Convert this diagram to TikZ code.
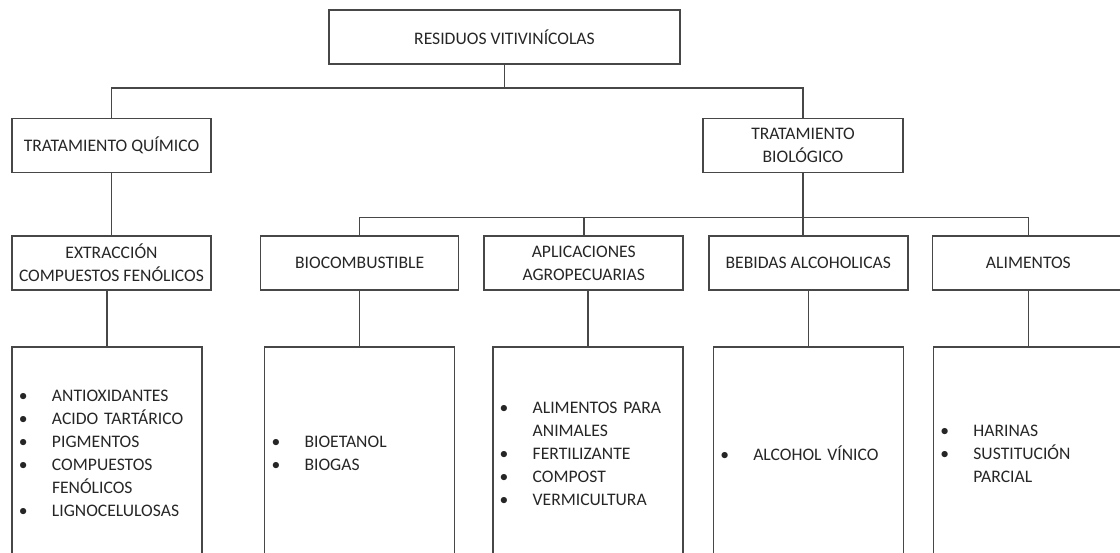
\documentclass[tikz,border=0pt]{standalone}
\usepackage{fontspec}
\setmainfont{Carlito}
\usetikzlibrary{positioning,calc}
\tikzset{
  caja/.style={
    rectangle, draw=black!72, line width=1.6pt, align=center,
    font=\fontsize{17.6}{23}\selectfont, text=black!85,
    minimum height=54pt, inner sep=2pt},
  lista/.style={
    rectangle, draw=black!72, line width=1.6pt, align=left,
    font=\fontsize{17.6}{23}\selectfont, text=black!85,
    minimum width=190pt, minimum height=214pt,
    text width=176pt, inner xsep=7pt},
  linea/.style={draw=black!72, line width=1.6pt}
}
\newcommand{\vineta}[1]{\makebox[33pt][l]{\textbullet}#1}
\newcommand{\sigue}[1]{\hspace*{33pt}#1}

\begin{document}
\begin{tikzpicture}[x=1pt, y=-1pt]

\useasboundingbox (0,0) rectangle (1120,552);
\clip (0,0) rectangle (1120,552);

\node[caja, minimum width=351pt] (res) at (504.5,37) {RESIDUOS VITIVINÍCOLAS};
\node[caja, minimum width=199pt] (quim) at (111.5,145.5) {TRATAMIENTO QUÍMICO};
\node[caja, minimum width=200pt] (biol) at (803,145.5) {TRATAMIENTO\\BIOLÓGICO};

% segundo nivel
\node[caja, minimum width=199pt, below=62pt of quim] (extr)
      {EXTRACCIÓN\\COMPUESTOS FENÓLICOS};
\node[caja, minimum width=198pt, right=48pt of extr] (bioc) {BIOCOMBUSTIBLE};
\node[caja, minimum width=199pt, right=24pt of bioc] (agro)
      {APLICACIONES\\AGROPECUARIAS};
\node[caja, minimum width=199pt, right=24pt of agro] (bebi) {BEBIDAS ALCOHOLICAS};
\node[caja, minimum width=192pt, right=23pt of bebi] (alim) {ALIMENTOS};

% listas
\node[lista, below=55pt of extr, xshift=-4.5pt] (lextr) {
  \vineta{ANTIOXIDANTES}\\\vineta{ACIDO TARTÁRICO}\\\vineta{PIGMENTOS}\\
  \vineta{COMPUESTOS}\\\sigue{FENÓLICOS}\\\vineta{LIGNOCELULOSAS}};
\node[lista, below=55pt of bioc] (lbioc) {
  \vineta{BIOETANOL}\\\vineta{BIOGAS}};
\node[lista, below=55pt of agro, xshift=4pt] (lagro) {
  \vineta{ALIMENTOS PARA}\\\sigue{ANIMALES}\\\vineta{FERTILIZANTE}\\
  \vineta{COMPOST}\\\vineta{VERMICULTURA}};
\node[lista, below=55pt of bebi] (lbebi) {\vineta{ALCOHOL VÍNICO}};
\node[lista, below=55pt of alim] (lalim) {
  \vineta{HARINAS}\\\vineta{SUSTITUCIÓN}\\\sigue{PARCIAL}};

% conectores
\coordinate (nudo1) at ($(res.south)+(0,23)$);
\draw[linea] (res.south) -- (nudo1);
\draw[linea] (quim.north) |- (nudo1) -| (biol.north);
\draw[linea] (quim.south) -- (extr.north);

\coordinate (nudo2) at ($(biol.south)+(0,44)$);
\draw[linea] (biol.south) -- (biol.south |- bebi.north);
\draw[linea] (bioc.north) |- (nudo2) -| (alim.north);
\draw[linea] (agro.north) -- (agro.north |- nudo2);

\draw[linea] (extr.south -| lextr.north) -- (lextr.north);
\draw[linea] (bioc.south) -- (lbioc.north);
\draw[linea] (agro.south -| lagro.north) -- (lagro.north);
\draw[linea] (bebi.south) -- (lbebi.north);
\draw[linea] (alim.south) -- (lalim.north);

\end{tikzpicture}
\end{document}
